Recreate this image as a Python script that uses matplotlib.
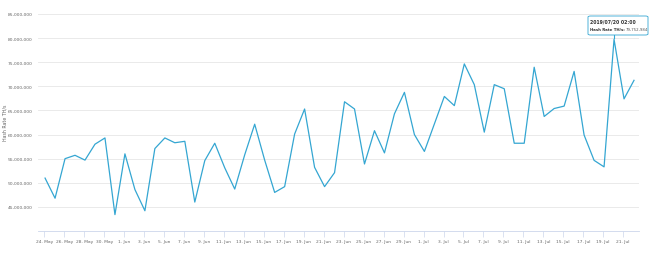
import numpy as np
import pandas as pd
import matplotlib
matplotlib.use('Agg')
import matplotlib.pyplot as plt
import matplotlib.dates as mdates
from matplotlib.patches import FancyBboxPatch
from matplotlib.ticker import FuncFormatter

# fechas diarias a las 02:00
fechas = pd.date_range('2019-05-24 02:00', '2019-07-22 02:00', freq='D')

# hash rate en millones de TH/s
hash_rate = [50.97, 46.8, 55.0, 55.7, 54.7, 58.0, 59.3, 43.4, 56.0, 48.6,
             44.2, 57.1, 59.3, 58.3, 58.6, 46.0, 54.6, 58.2, 53.1, 48.7,
             55.8, 62.15, 54.7, 48.0, 49.2, 60.1, 65.3, 53.2, 49.2, 52.1,
             66.8, 65.3, 53.9, 60.8, 56.2, 64.3, 68.75, 60.0, 56.5, 62.2,
             67.9, 66.0, 74.65, 70.35, 60.5, 70.35, 69.5, 58.2, 58.2, 73.96,
             63.75, 65.4, 65.9, 73.1, 59.9, 54.65, 53.3, 79.753, 67.4, 71.25]
hash_rate = np.array(hash_rate) * 1e6

y_ticks = [45e6, 50e6, 55e6, 60e6, 65e6, 70e6, 75e6, 80e6, 85e6]
x_ticks = pd.date_range('2019-05-24', '2019-07-21', freq='2D')

tip_fecha = '2019/07/20 02:00'
tip_serie = 'Hash Rate TH/s:'
tip_valor = '79,752,984'

color_linea = '#34a6d2'
gris = '#666666'

fig = plt.figure(figsize=(6.5, 2.55), dpi=100)
ax = fig.add_axes([38/650, 23/255, 601/650, 217/255])

ax.plot(fechas, hash_rate, color=color_linea, lw=0.9, zorder=3)

ax.set_ylim(40e6, 85e6)
ax.set_xlim(pd.Timestamp('2019-05-23 09:00'), pd.Timestamp('2019-07-22 14:00'))
ax.set_yticks(y_ticks)
ax.yaxis.set_major_formatter(FuncFormatter(lambda v, p: f'{int(v):,}'))
ax.set_xticks(x_ticks)
ax.set_xticklabels([f'{d.day}. {d.strftime("%b")}' for d in x_ticks])

ax.grid(axis='y', color='#e6e6e6', lw=0.6)
for s in ['top', 'right', 'left']:
    ax.spines[s].set_visible(False)
ax.spines['bottom'].set_color('#ccd6eb')
ax.spines['bottom'].set_linewidth(0.6)
ax.tick_params(axis='y', length=0, labelsize=3.2, labelcolor=gris, pad=4)
ax.tick_params(axis='x', length=4, width=0.5, color='#ccd6eb', labelsize=3.2,
               labelcolor=gris, pad=2)
fig.text(5/650, 1 - 123/255, 'Hash Rate TH/s', fontsize=3.4, color=gris,
         rotation=90, ha='center', va='center')

# tooltip sobre el maximo
pico = int(np.argmax(hash_rate))
px, py = ax.transData.transform((mdates.date2num(fechas[pico]), hash_rate[pico]))
fx, fy = fig.transFigure.inverted().transform((px, py))
caja = FancyBboxPatch((588/650, 1 - 36/255), 60/650, 19/255,
                      boxstyle='round,pad=0,rounding_size=0.004',
                      transform=fig.transFigure, facecolor='white',
                      edgecolor=color_linea, lw=0.6, zorder=10)
fig.patches.append(caja)
fig.lines.append(plt.Line2D([fx, fx], [1 - 36/255, fy + 0.005],
                            transform=fig.transFigure, color=color_linea, lw=0.8))
fig.text(590/650, 1 - 22/255, tip_fecha, fontsize=3.3, fontweight='bold',
         color='#333333', va='center', zorder=11)
t = fig.text(590/650, 1 - 30/255, tip_serie, fontsize=2.8, fontweight='bold',
             color='#333333', va='center', zorder=11)
fig.canvas.draw()
bb = t.get_window_extent()
fig.text(bb.x1 / 650 + 1/650, 1 - 30/255, tip_valor, fontsize=2.8,
         color='#555555', va='center', zorder=11)

fig.savefig('out.png', dpi=100)
